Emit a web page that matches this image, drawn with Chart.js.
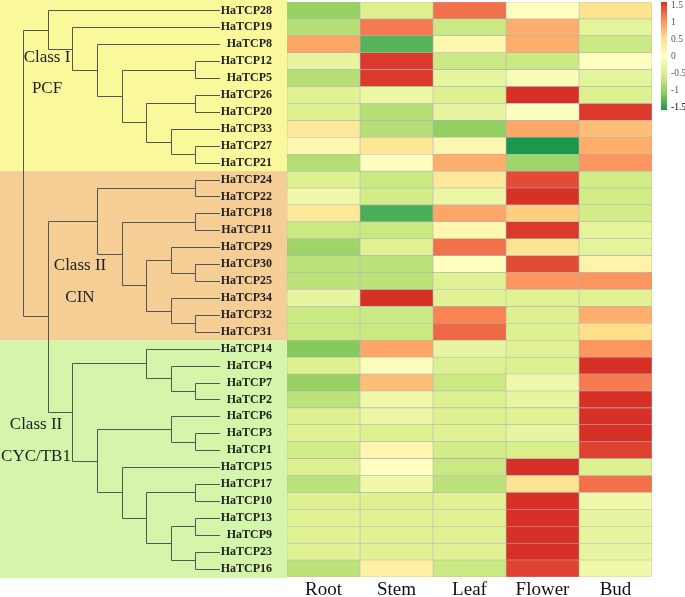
<!DOCTYPE html>
<html>
<head>
<meta charset="utf-8">
<script src="https://cdn.jsdelivr.net/npm/chart.js@4"></script>
<style>
  body { margin: 0; background: #fff; }
  #wrap { width: 685px; height: 597px; position: relative; }
</style>
</head>
<body>
<div id="wrap"><canvas id="heat"></canvas></div>
<script>
// row order (top to bottom), as in the dendrogram
const genes = ["HaTCP28","HaTCP19","HaTCP8","HaTCP12","HaTCP5","HaTCP26","HaTCP20","HaTCP33","HaTCP27","HaTCP21",
  "HaTCP24","HaTCP22","HaTCP18","HaTCP11","HaTCP29","HaTCP30","HaTCP25","HaTCP34","HaTCP32","HaTCP31",
  "HaTCP14","HaTCP4","HaTCP7","HaTCP2","HaTCP6","HaTCP3","HaTCP1","HaTCP15","HaTCP17","HaTCP10","HaTCP13","HaTCP9","HaTCP23","HaTCP16"];

const tissues = ["Root", "Stem", "Leaf", "Flower", "Bud"];

// scaled expression, one array per tissue (same order as genes)
const root   = [-0.95,-0.75,0.85,-0.3,-0.75,-0.4,-0.45,0.35,0.15,-0.75,
                -0.45,-0.2,0.35,-0.6,-0.9,-0.7,-0.7,-0.3,-0.6,-0.6,
                -1.05,-0.45,-0.95,-0.7,-0.45,-0.4,-0.55,-0.45,-0.7,-0.45,-0.4,-0.4,-0.4,-0.7];
const stem   = [-0.45,1.1,-1.25,1.45,1.45,-0.25,-0.75,-0.75,0.4,0.0,
                -0.6,-0.55,-1.3,-0.6,-0.4,-0.7,-0.7,1.5,-0.6,-0.6,
                0.85,-0.05,0.7,-0.2,-0.25,-0.45,0.15,0.0,-0.2,-0.45,-0.4,-0.4,-0.4,0.25];
const leaf   = [1.15,-0.6,0.15,-0.6,-0.3,-0.45,-0.3,-1.0,0.15,0.8,
                0.35,-0.25,0.85,0.15,1.15,0.0,-0.4,-0.4,1.05,1.2,
                -0.3,-0.45,-0.6,-0.45,-0.45,-0.4,-0.55,-0.6,-0.7,-0.4,-0.4,-0.4,-0.4,-0.6];
const flower = [0.0,0.8,0.8,-0.6,-0.1,1.5,0.0,0.85,-1.5,-0.9,
                1.35,1.5,0.6,1.45,0.45,1.35,0.95,-0.4,-0.45,-0.45,
                -0.4,-0.45,-0.2,-0.3,-0.4,-0.3,-0.5,1.5,0.45,1.5,1.5,1.5,1.5,1.4];
const bud    = [0.45,-0.35,-0.6,0.0,-0.35,-0.45,1.45,0.7,0.8,0.95,
                -0.55,-0.55,-0.55,-0.35,-0.35,0.2,0.95,-0.4,0.8,0.5,
                0.95,1.5,1.1,1.5,1.5,1.5,1.4,-0.45,1.15,-0.2,-0.3,-0.3,-0.3,-0.2];
const values = [root, stem, leaf, flower, bud];

// clustering (nested pairs), leaves in row order
const tree = [
  ["HaTCP28", ["HaTCP19", ["HaTCP8", [["HaTCP12","HaTCP5"], [["HaTCP26","HaTCP20"], ["HaTCP33", ["HaTCP27","HaTCP21"]]]]]]],
  [
    [["HaTCP24","HaTCP22"], [["HaTCP18","HaTCP11"], [["HaTCP29", ["HaTCP30","HaTCP25"]], ["HaTCP34", ["HaTCP32","HaTCP31"]]]]],
    [["HaTCP14", ["HaTCP4", ["HaTCP7","HaTCP2"]]], [["HaTCP6", ["HaTCP3","HaTCP1"]], ["HaTCP15", [["HaTCP17","HaTCP10"], [["HaTCP13","HaTCP9"], ["HaTCP23","HaTCP16"]]]]]]
  ]
];

// subfamilies: first and last row index
const groupNames = [["Class I", "PCF"], ["Class II", "CIN"], ["Class II", "CYC/TB1"]];
const groupRows  = [[0, 9], [10, 19], [20, 33]];
const legendTicks = [1.5, 1, 0.5, 0, -0.5, -1, -1.5];

// ---- styling ----
const groupColors = ["#f9f99c", "#f5ce96", "#d4f5aa"];
const stops = [[-1.5,[26,152,80]],[-1,[145,207,96]],[-0.5,[217,239,139]],[0,[255,255,191]],
               [0.5,[254,224,139]],[1,[252,141,89]],[1.5,[215,48,39]]];

function colorFor(v) {
  if (v <= stops[0][0]) return "rgb(" + stops[0][1].join(",") + ")";
  for (let i = 0; i < stops.length - 1; i++) {
    const a = stops[i], b = stops[i + 1];
    if (v <= b[0]) {
      const t = (v - a[0]) / (b[0] - a[0]);
      const c = a[1].map((x, k) => Math.round(x + (b[1][k] - x) * t));
      return "rgb(" + c.join(",") + ")";
    }
  }
  return "rgb(" + stops[stops.length - 1][1].join(",") + ")";
}

const serif = '"Liberation Serif", "Times New Roman", serif';

// background bands + class names
const bandsPlugin = {
  id: "bands",
  beforeDraw(chart) {
    const { ctx, chartArea, scales } = chart;
    const y = scales.y;
    const half = (y.getPixelForValue(1) - y.getPixelForValue(0)) / 2;
    ctx.save();
    groupRows.forEach((g, i) => {
      let top = y.getPixelForValue(g[0]) - half;
      let bot = y.getPixelForValue(g[1]) + half;
      if (i === 0) top = 0;
      if (i === groupRows.length - 1) bot += 1;
      ctx.fillStyle = groupColors[i];
      ctx.fillRect(0, top, chartArea.left, bot - top);
    });
    ctx.restore();
  },
  afterDraw(chart) {
    const { ctx, scales } = chart;
    const y = scales.y;
    // text anchors: [x centre, row of first line, row of second line]
    const spots = [[47, 2.8, 4.6], [80, 15.1, 16.95], [36, 24.5, 26.35]];
    ctx.save();
    ctx.font = "17px " + serif;
    ctx.fillStyle = "#222";
    ctx.textAlign = "center";
    ctx.textBaseline = "middle";
    groupNames.forEach((lines, i) => {
      const s = spots[i];
      ctx.fillText(lines[0], s[0], y.getPixelForValue(s[1]));
      ctx.fillText(lines[1], s[0], y.getPixelForValue(s[2]));
    });
    ctx.restore();
  }
};

// cladogram on the left
const dendroPlugin = {
  id: "dendro",
  afterDraw(chart) {
    const { ctx, scales } = chart;
    const y = scales.y;
    const tipX = 220, rootX = 23;
    function level(n) { return typeof n === "string" ? 0 : Math.max(level(n[0]), level(n[1])) + 1; }
    const maxLevel = level(tree);
    const xOf = lv => tipX - lv * (tipX - rootX) / maxLevel;
    ctx.save();
    ctx.strokeStyle = "#555";
    ctx.lineWidth = 1;
    ctx.beginPath();
    function walk(n) {
      if (typeof n === "string") return { x: tipX, y: y.getPixelForValue(genes.indexOf(n)) };
      const a = walk(n[0]), b = walk(n[1]);
      const x = xOf(level(n));
      const px = Math.round(x) + 0.5;
      const ya = Math.round(a.y) + 0.5, yb = Math.round(b.y) + 0.5;
      ctx.moveTo(px, ya); ctx.lineTo(px, yb);
      ctx.moveTo(px, ya); ctx.lineTo(a.x, ya);
      ctx.moveTo(px, yb); ctx.lineTo(b.x, yb);
      return { x: px, y: (a.y + b.y) / 2 };
    }
    walk(tree);
    ctx.stroke();
    ctx.restore();
  }
};

// colour key
const keyPlugin = {
  id: "key",
  afterDraw(chart) {
    const { ctx } = chart;
    const x0 = 661, w = 6, top = 5, h = 102;
    const lo = legendTicks[legendTicks.length - 1], hi = legendTicks[0];
    ctx.save();
    const grad = ctx.createLinearGradient(0, top - 3, 0, top + h + 3);
    stops.slice().reverse().forEach(s => grad.addColorStop((hi - s[0]) / (hi - lo), "rgb(" + s[1].join(",") + ")"));
    ctx.fillStyle = grad;
    ctx.fillRect(x0, top - 3, w, h + 6);
    ctx.font = "9.5px " + serif;
    ctx.textBaseline = "middle";
    legendTicks.forEach((v, i) => {
      ctx.fillStyle = i === legendTicks.length - 1 ? "#000" : "#555";
      ctx.fillText(String(v), x0 + w + 4, top + (hi - v) / (hi - lo) * h);
    });
    ctx.restore();
  }
};

new Chart(document.getElementById("heat"), {
  type: "bar",
  data: {
    labels: genes,
    datasets: tissues.map((t, j) => ({
      label: t,
      data: genes.map(() => [j, j + 1]),
      backgroundColor: values[j].map(colorFor),
      borderColor: "#b4b4b4",
      borderWidth: 0.6,
      borderSkipped: false,
      grouped: false,
      barPercentage: 1,
      categoryPercentage: 1
    }))
  },
  options: {
    indexAxis: "y",
    responsive: true,
    maintainAspectRatio: false,
    animation: false,
    layout: { padding: { top: 2, right: 33, left: 0, bottom: 0 } },
    plugins: { legend: { display: false }, tooltip: { enabled: false } },
    scales: {
      x: {
        type: "linear", min: 0, max: tissues.length,
        grid: { display: false, drawTicks: false }, border: { display: false },
        afterBuildTicks: s => { s.ticks = tissues.map((_, i) => ({ value: i + 0.5 })); },
        afterFit: s => { s.height = 20; s.paddingLeft = 0; s.paddingRight = 0; },
        ticks: {
          callback: v => tissues[Math.floor(v)],
          font: { family: serif, size: 19 }, color: "#111", padding: 2, maxRotation: 0, autoSkip: false
        }
      },
      y: {
        type: "category",
        grid: { display: false, drawTicks: false }, border: { display: false },
        afterFit: s => { s.width = 287; s.paddingTop = 0; s.paddingBottom = 0; },
        ticks: {
          font: { family: serif, size: 12, weight: "bold" }, color: "#222", padding: 15, autoSkip: false
        }
      }
    }
  },
  plugins: [bandsPlugin, dendroPlugin, keyPlugin]
});
</script>
</body>
</html>
